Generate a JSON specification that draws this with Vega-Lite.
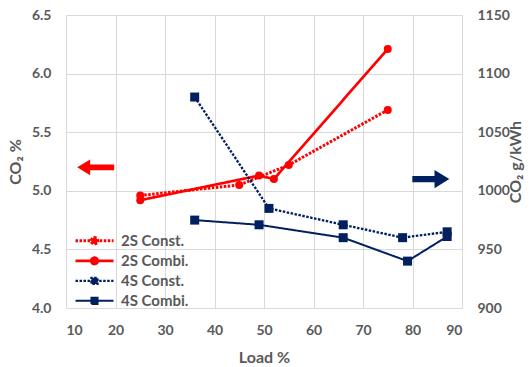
{
  "$schema": "https://vega.github.io/schema/vega-lite/v6.json",
  "width": 396,
  "height": 293,
  "autosize": "none",
  "padding": {"left": 66, "top": 15, "right": 69, "bottom": 59},
  "background": "white",
  "datasets": {
    "s2": [
      {"series": "2S Const.", "load": 25, "co2": 4.96},
      {"series": "2S Const.", "load": 45, "co2": 5.05},
      {"series": "2S Const.", "load": 55, "co2": 5.22},
      {"series": "2S Const.", "load": 75, "co2": 5.69},
      {"series": "2S Combi.", "load": 25, "co2": 4.92},
      {"series": "2S Combi.", "load": 49, "co2": 5.13},
      {"series": "2S Combi.", "load": 52, "co2": 5.10},
      {"series": "2S Combi.", "load": 75, "co2": 6.21}
    ],
    "s4": [
      {"series": "4S Const.", "load": 36, "gkwh": 1080},
      {"series": "4S Const.", "load": 51, "gkwh": 985},
      {"series": "4S Const.", "load": 66, "gkwh": 971},
      {"series": "4S Const.", "load": 78, "gkwh": 960},
      {"series": "4S Const.", "load": 87, "gkwh": 965},
      {"series": "4S Combi.", "load": 36, "gkwh": 975},
      {"series": "4S Combi.", "load": 49, "gkwh": 971},
      {"series": "4S Combi.", "load": 66, "gkwh": 960},
      {"series": "4S Combi.", "load": 79, "gkwh": 940},
      {"series": "4S Combi.", "load": 87, "gkwh": 961}
    ],
    "arrowLeft": [{"load": 16, "co2": 5.2}],
    "arrowRight": [{"load": 83.7, "co2": 5.1}]
  },
  "layer": [
    {
      "layer": [
        {
          "data": {"name": "s2"},
          "mark": {"type": "line", "point": {"filled": true, "size": 64, "shape": "circle", "opacity": 1}},
          "encoding": {
            "x": {"field": "load", "type": "quantitative", "scale": {"domain": [10, 90], "nice": false},
              "axis": {"title": "Load %", "values": [10, 20, 30, 40, 50, 60, 70, 80, 90], "labelPadding": 15, "titlePadding": 12}},
            "y": {"field": "co2", "type": "quantitative", "scale": {"domain": [4, 6.5], "nice": false, "zero": false},
              "axis": {"title": "CO₂ %", "values": [4, 4.5, 5, 5.5, 6, 6.5], "format": ".1f", "labelPadding": 15, "titlePadding": 8}},
            "color": {"field": "series", "type": "nominal",
              "scale": {"domain": ["2S Const.", "2S Combi.", "4S Const.", "4S Combi."], "range": ["#FF0000", "#FF0000", "#002060", "#002060"]},
              "legend": {
                "title": null, "orient": "none", "legendX": 8, "legendY": 216,
                "symbolSize": 1444, "clipHeight": 19.7, "rowPadding": 0, "padding": 0,
                "labelOffset": 6,
                "encode": {"symbols": {"update": {
                  "shape": {"signal": "indexof(datum.value, '2S') == 0 ? 'M -1 0 L -0.17 0 A 0.17 0.17 0 1 1 0.17 0 A 0.17 0.17 0 1 1 -0.17 0 L 1 0' : 'M -1 0 L -0.16 0 L -0.16 0.16 L 0.16 0.16 L 0.16 -0.16 L -0.16 -0.16 L -0.16 0 L 1 0'"},
                  "fill": {"scale": "color", "field": "value"},
                  "stroke": {"scale": "color", "field": "value"},
                  "strokeWidth": {"signal": "indexof(datum.value, 'Const') >= 0 ? 3 : 2"},
                  "strokeDash": {"signal": "datum.value == '2S Const.' ? [2.5,1.5,2.5,1.5,2.5,1.5,2.5,1.27,26.75,1.5,2.5,1.5,2.5,1.5,2.5,1.5,2.5,100] : datum.value == '4S Const.' ? [2.5,1.5,2.5,1.5,2.5,1.5,2.5,1.46,30.4,1.5,2.5,1.5,2.5,1.5,2.5,1.5,2.5,100] : [1,0]"},
                  "opacity": {"value": 1}
                }}}
              }},
            "strokeDash": {"field": "series", "type": "nominal", "legend": null,
              "scale": {"domain": ["2S Const.", "2S Combi.", "4S Const.", "4S Combi."], "range": [[2.5, 1.5], [1, 0], [2.5, 1.5], [1, 0]]}},
            "strokeWidth": {"field": "series", "type": "nominal",
              "scale": {"domain": ["2S Const.", "2S Combi.", "4S Const.", "4S Combi."], "range": [3, 2, 3, 2]}, "legend": null}
          }
        },
        {
          "data": {"name": "arrowLeft"},
          "mark": {"type": "point", "shape": "M -1 0 L -0.3 -0.42 L -0.3 -0.15 L 1 -0.15 L 1 0.15 L -0.3 0.15 L -0.3 0.42 Z", "size": 1369, "filled": true, "color": "#FF0000", "opacity": 1},
          "encoding": {
            "x": {"field": "load", "type": "quantitative"},
            "y": {"field": "co2", "type": "quantitative"}
          }
        },
        {
          "data": {"name": "arrowRight"},
          "mark": {"type": "point", "shape": "M 1 0 L 0.2 -0.49 L 0.2 -0.17 L -1 -0.17 L -1 0.17 L 0.2 0.17 L 0.2 0.49 Z", "size": 1369, "filled": true, "color": "#002060", "opacity": 1},
          "encoding": {
            "x": {"field": "load", "type": "quantitative"},
            "y": {"field": "co2", "type": "quantitative"}
          }
        }
      ]
    },
    {
      "data": {"name": "s4"},
      "mark": {"type": "line", "point": {"filled": true, "size": 81, "shape": "square", "opacity": 1}},
      "encoding": {
        "x": {"field": "load", "type": "quantitative"},
        "y": {"field": "gkwh", "type": "quantitative", "scale": {"domain": [900, 1150], "nice": false, "zero": false},
          "axis": {"orient": "right", "title": "CO₂ g/kWh", "values": [900, 950, 1000, 1050, 1100, 1150], "format": "d", "grid": false, "labelPadding": 15, "titlePadding": 14, "titleAngle": 270}},
        "color": {"field": "series", "type": "nominal"},
        "strokeDash": {"field": "series", "type": "nominal", "legend": null},
        "strokeWidth": {"field": "series", "type": "nominal", "legend": null}
      }
    }
  ],
  "resolve": {"scale": {"y": "independent"}},
  "config": {
    "view": {"stroke": null},
    "axis": {
      "labelFont": "Lato", "labelFontWeight": "bold", "labelColor": "#595959", "labelFontSize": 14,
      "titleFont": "Lato", "titleFontWeight": "bold", "titleColor": "#595959", "titleFontSize": 16,
      "gridColor": "#D9D9D9", "gridWidth": 1, "domain": false, "ticks": false
    },
    "legend": {
      "labelFont": "Lato", "labelFontWeight": "bold", "labelColor": "#595959", "labelFontSize": 15
    }
  }
}
